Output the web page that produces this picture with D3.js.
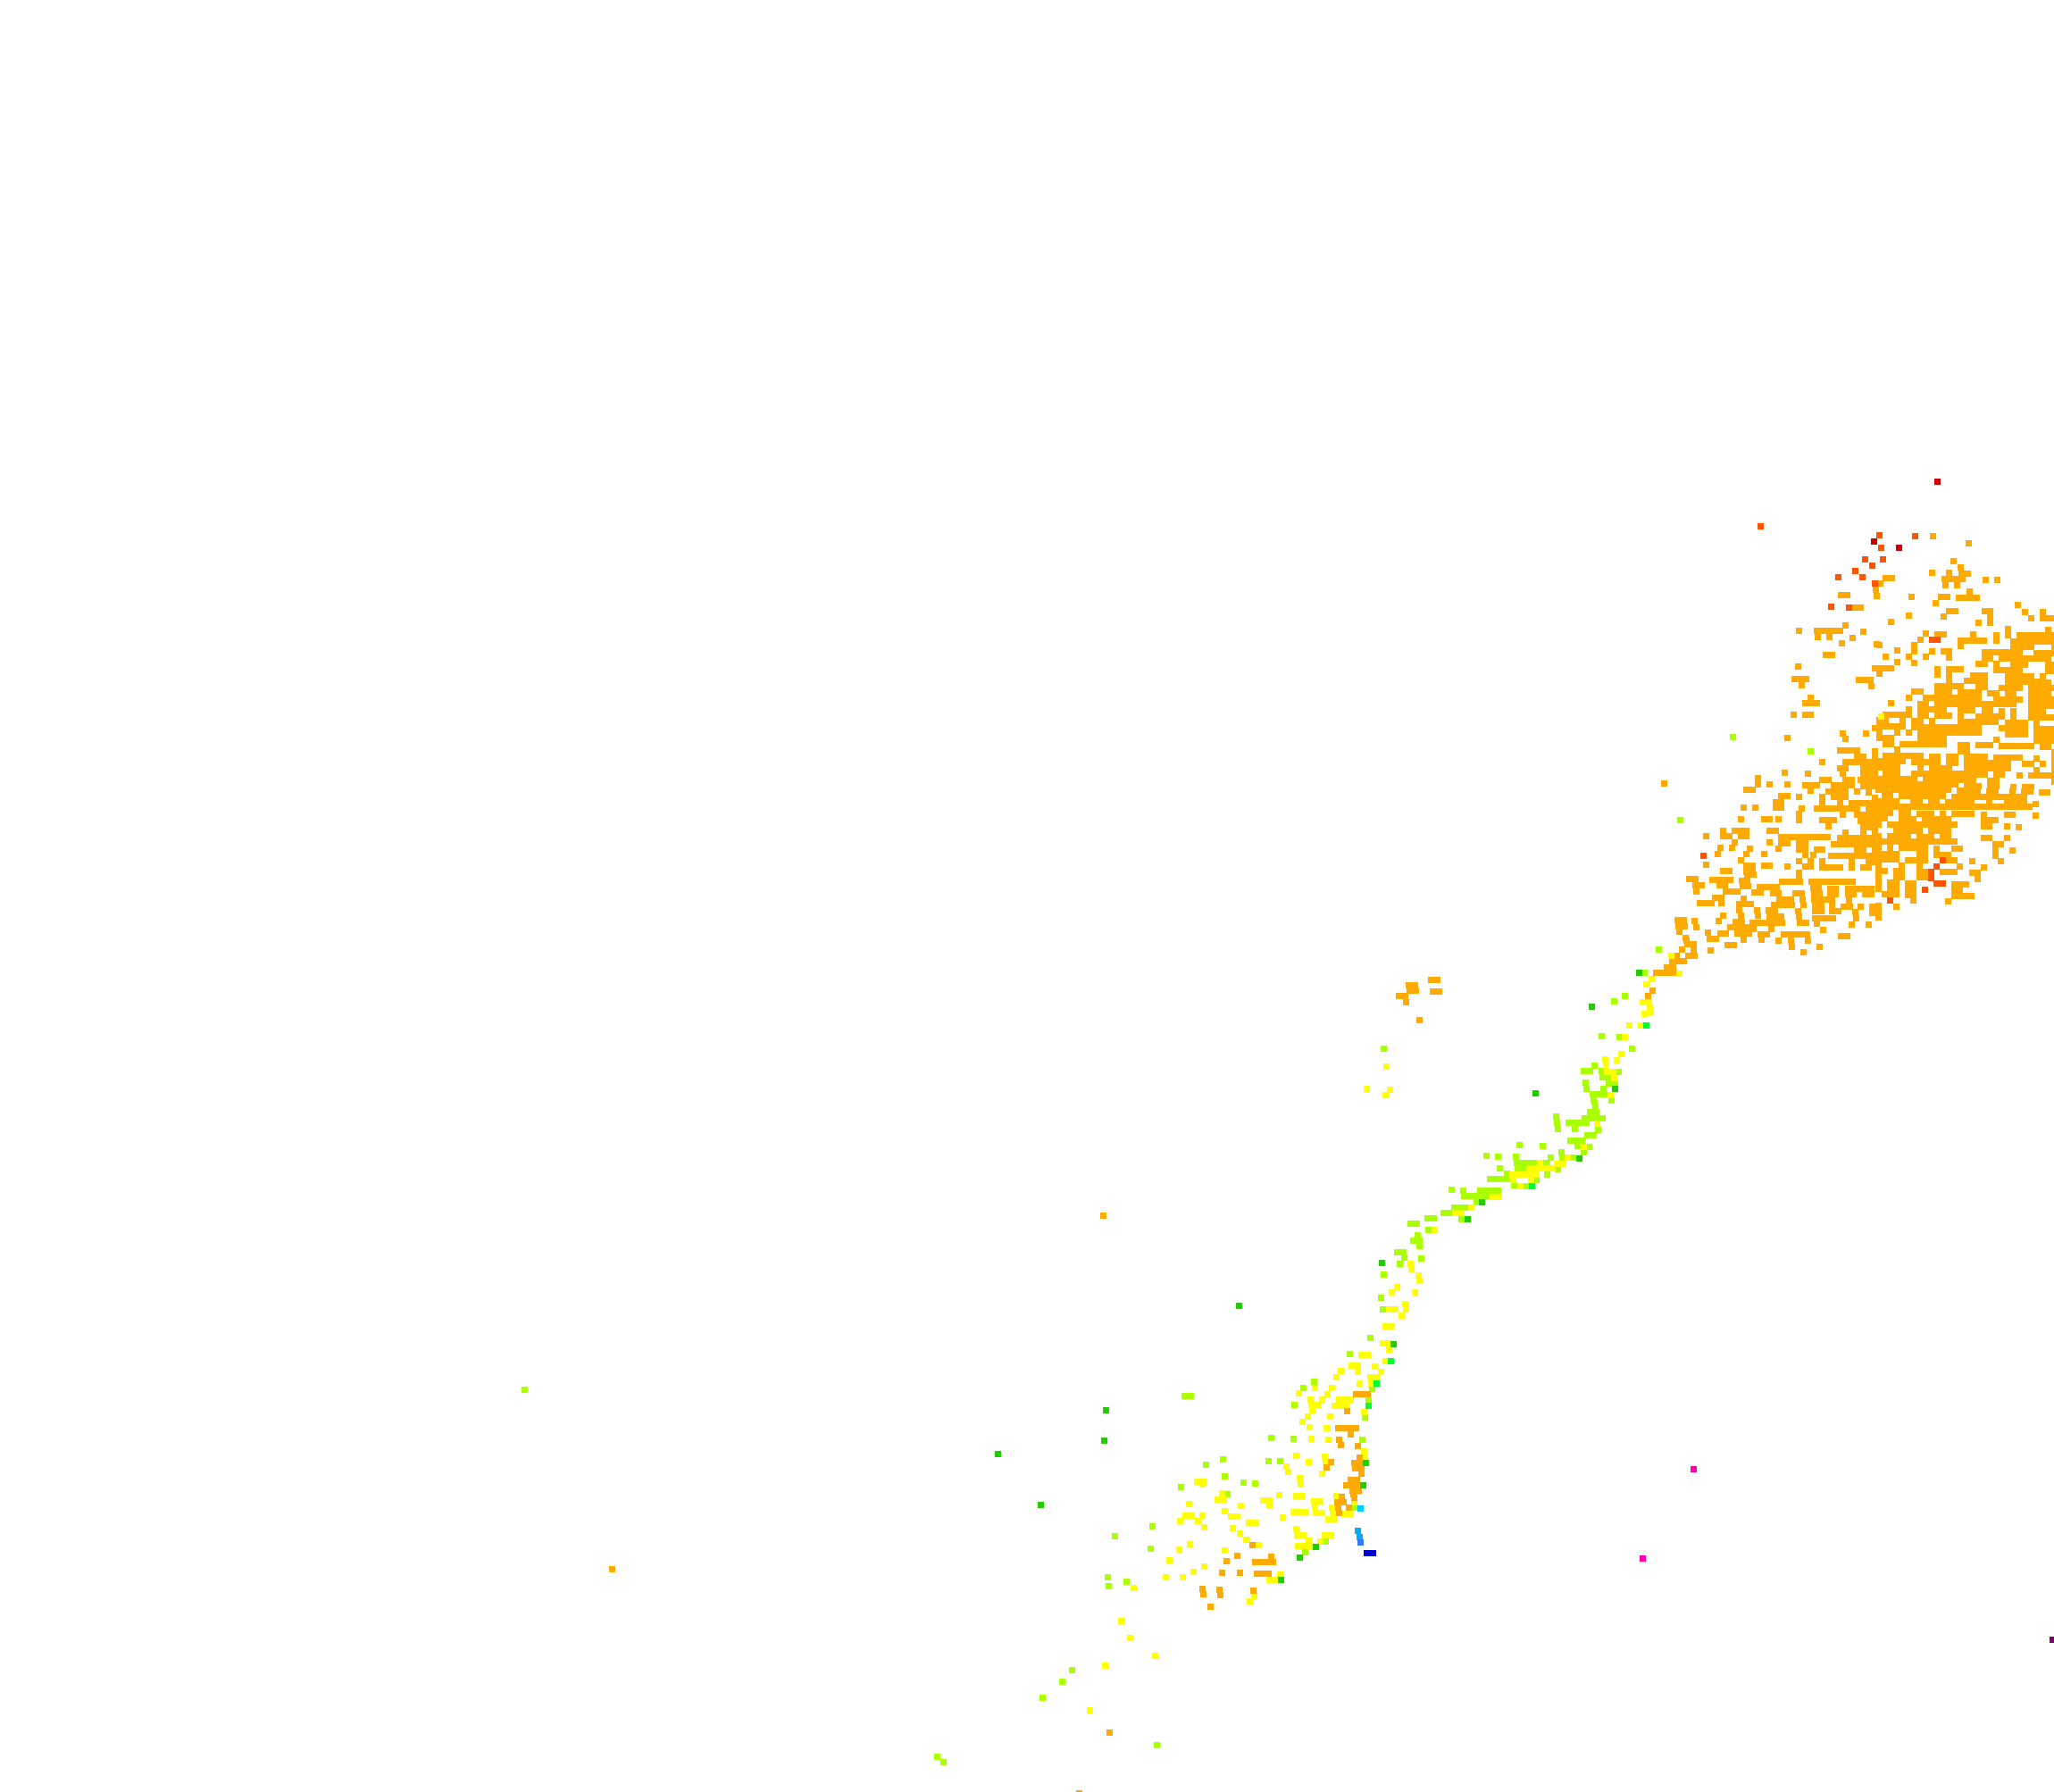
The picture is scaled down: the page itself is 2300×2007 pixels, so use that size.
<!DOCTYPE html>
<html><head><meta charset="utf-8"><style>html,body{margin:0;padding:0;background:#fff}svg{display:block}</style>
<script src="https://cdnjs.cloudflare.com/ajax/libs/d3/7.8.5/d3.min.js"></script></head><body>
<script>
const W=2300,H=2007;
const classColors={orange:"#ffaa00",yellow:"#ffff00",yg:"#aaff00",green:"#22cc00",lime:"#00ff33",red:"#ff5500",dark:"#cc0000",cyan:"#00ccff",sky:"#00aaff",mid:"#3377ff",navy:"#0000cc",pink:"#ff00aa",plum:"#800066"};
// dense grid blocks: each row lists occupied column runs
const rowsE=["12-13 18-19 25 28","5 11 19 26 28-30","2 17 19","22 29","8 10-11 16 20 22 24-30","7 14-18 20 23-30","0 6 14 23-26 30","3 6 9 11-12 18-24 27-30","1 5 8 12 18-19 21-29","3 6 17-18 20 23-25 29-30","0-2 10 12-14 20-24 29-30","0 10 12 16-18 22-26 28","12 15-18 22-27 28-29","10-14 17-18 21-24 26-30","6-7 10-12 14-17 19-20 22-23 26-29","5 8-17 20-24 26-30","2 7-8 10-23 26-30","5 7-11 14-16 18-19 21 23 26-28","1-4 5 7-8 10-12 14 17-21 23 26-30","0-1 4 6-7 9 14-20 22-25 27","0-4 6-17 21-25 27-30","0 3 5 7-17 22-25 27-30","0-2 7-11 20 27-30","1-2 4-11 14-15 17-19 21-26 28-29","3 14-15 30","1-7 9-10 12-13 15-18 20-24 27 30","0-4 6-10 12-13 15-22 25-26 28 30","0-3 7 9-12 15-22 27 30","1-3 6-14 15-18 20-21 24 26-30","0-3 4-6 8-14 15-16 19-20 30","0-13 15-17 19-20 23 25-26"];
const redE=[[0,5,9,2]];
const yellowE=[[10,357]];
const rowsC=["19","18-20","","16 18-19","","30","24.5 28.5","15 25","","24-27 30","27-28 30","21 25-30","24-25 28-30","14.5 18.5 24.5 28-30","10 21-22 25-26 27.5-30","10 12 15 18-20 23-26 28-30","8-9 19 22-25 27 29","14-15 17 21 23-25 30","13-14 21 24 26-30","7.5 9.5 13-14 17.5 20-27 29-30","17 24.5 27-30","7 11-12 13.5 17 21-23 27.5-30","22 28-30","4 6-8 12-13 25 28 30","1 4-5 7-8 14-22 24-30","6 12 14-15 17-18 23-30","3.5 5.5 8.5 13.5 17-18 20-21 27-28 30","3 8 11 18 19.5 22.5-30","7 17 19 21 26 29-30","1 8-9 11-12 15 18-19 21-24 26 28-29","4-5 8-9 17"];
const ygC=[[111,126],[372,174]];
const rowsS=["0-12 14-17 19-20 23 25-26 28-29","1-2 4-11 13-25","0-3 6-7 9-10 12-16 19 22-25 27","0-26","0-2 4-5 7-9 11 13-16 18 22-23 27","0-1 4-6 8-12 18-20","0 2-13 18-19 22 24","3-7 9-12","0 2-5 7-9 11-12 18-19 22","0-13 20-21","0 2 4-8 10 13-14 20 23","0-3 7-8 10-12 20","0-3 5-8 12-13 16 21","0 4 7 14 18","0-1 3-4 7-8 11-13 16-17","0 3-4 7-8 17","0 2-3 5-6 13-15","0 2-3 5-6 13-14","1-3 5-6 13-16","6 12","0 3","0","0"];
const redS=[[11,12],[10,13],[9,14],[9,15],[10,16],[11,16],[8,17],[2,19]];
// sparse / irregular cells, as [x, y, cols, rows] in chart units
const orangeN=[[624,432,2],[606,450],[591,471],[594,492],[474,489,2],[519,531,2],[489,591],[333,609],[393,609,5],[396,630],[435,630],[549,612],[513,633],[477,651],[594,654],[423,690,2],[330,729],[588,735],[318,771,3],[342,792],[534,774,3],[576,795],[783,291],[903,315],[852,375],[876,396],[879,417,2],[780,414],[837,414],[822,435,4],[960,438],[1000,438],[825,456],[864,456],[906,477],[711,495],[810,495,2],[870,498,4],[792,516],[1068,522]];
const redN=[[204,258],[603,288],[609,330],[555,369],[615,369],[579,390],[522,408],[465,429],[546,429],[588,450],[501,532],[441,528],[723,291]];
const darkN=[[586,309],[669,330],[797,108]];
const orangeW=[[240,-18],[324,303,2],[345,323,2],[348,345],[285,441,2],[288,463,2],[291,480],[312,501],[342,444],[348,465]];
const orangeSW=[[0,25],[42,5,4],[65,25,2],[87,45,3],[140,8,2],[143,28,2],[160,-12,2],[200,30,4],[277,12,4],[183,48,2],[245,50,2],[322,50,2],[333,-8],[375,12,8],[380,32,2],[437,35,2],[497,35,5],[383,52,2],[437,55,2],[497,55,2],[555,55,2],[385,72,4],[500,75],[267,72,3],[345,72],[52,65,2],[0,85,3],[72,85],[147,70],[133,88,3],[250,90,4],[347,90],[387,92,2],[445,92],[483,97,2],[540,97],[578,97],[133,107],[193,107],[232,108,2],[330,110],[387,112,2],[445,112,2],[522,115],[580,117],[78,125],[138,125],[195,127],[235,128,3],[332,128],[388,135,4],[525,135],[62,145],[120,147,2],[178,150,6],[337,150,2],[393,153],[510,155],[567,155],[102,165,4],[180,170],[240,170],[415,174],[28,183],[68,187,2],[127,185,3],[205,190,2],[282,190,5],[475,195,2],[33,205,2],[148,207],[208,208],[265,210],[305,210],[362,210],[93,225,2],[308,230],[403,231],[36,243],[348,250]];
const redW=[[372,225]];
const ygW=[[294,105]];
const orangeM=[[1155,0],[1158,12,2],[1140,30],[1180,30],[1122,50],[1162,50,2],[1107,70,3],[1089,90,2],[1053,108,4],[1041,168],[1026,186],[222,150,2],[225,168,2],[189,186,2],[213,207],[297,132,2],[303,171,2],[258,267]];
const yellowM=[[1104,51],[1131,111],[1038,129],[1020,147],[1008,207,2],[1032,225],[1035,240],[1014,246],[963,285],[1002,285],[948,324],[936,381],[921,402],[882,399],[885,420],[888,441,2],[909,441],[912,462],[900,519],[855,615],[810,693],[756,729],[720,750,2],[663,747],[627,765,5],[570,785,5],[573,804],[633,804],[597,825],[504,861,2],[147,423],[81,498],[159,501],[144,519]];
const ygM=[[1062,30],[1014,108],[948,186],[912,204],[870,321],[930,324],[972,363],[138,363],[846,420],[810,438,2],[927,441],[870,438],[873,459,2],[894,480,2],[816,477],[819,498],[876,498],[840,516,3],[843,534],[903,537],[846,543],[849,558],[831,576,2],[813,597,4],[717,591],[720,612],[723,633],[759,612,4],[780,633],[858,636],[822,654,2],[765,672,3],[789,690],[828,693],[810,711],[594,687],[672,690],[483,723],[522,726],[582,726],[735,711],[738,729],[699,729],[774,729],[585,747,4],[588,765,2],[528,765],[684,747],[723,768],[552,783],[687,786],[495,801,4],[651,804],[576,822],[615,825],[366,837],[405,840],[462,840,4],[408,858,5],[450,879],[375,897,3]];
const greenM=[[996,108],[837,222],[915,498],[648,513],[795,732],[468,879]];
const limeM=[[1020,285],[636,825]];
const ygL=[[555,147,3],[519,165,2],[579,186],[465,183,2],[408,201,2],[468,222],[432,240],[417,258,2],[438,276],[363,297,2],[387,315],[444,318],[372,336],[318,372],[315,489],[309,450],[273,585],[204,639]];
const yellowL=[[612,147],[558,165,2],[489,222],[408,336],[411,354],[435,375],[438,393],[363,414],[345,432],[423,432],[390,471],[393,489],[336,489,2],[378,510],[324,546,2]];
const greenL=[[600,186],[312,333]];
const greenB=[[921,6],[828,405],[819,480],[660,687],[606,723],[543,798]];
const limeB=[[912,63],[864,138],[837,213]];
const ygB=[[774,39],[654,132],[618,153],[849,156],[837,195],[588,210],[825,252],[219,180,2],[510,321],[585,324],[816,327],[348,393],[291,411],[501,399],[540,399],[354,450],[417,471],[456,474],[207,486],[363,510],[792,555],[111,618],[-15,651],[105,693],[693,669],[624,705],[24,804]];
const yellowB=[[885,3,2],[906,24],[813,42,2],[894,63],[780,78,2],[801,98],[858,81],[744,96],[879,99],[729,117],[843,117,2],[846,138],[807,138],[657,153],[714,153],[603,171],[699,174],[681,192],[642,192],[738,192,3],[645,210,2],[723,213,3],[648,228],[822,234],[633,249],[708,249],[615,267],[639,285],[696,288],[645,324],[702,327],[822,366],[825,387],[594,381],[690,384],[693,402],[636,402],[561,417],[567,436],[681,441],[606,456],[609,477],[261,468,2],[279,477],[345,507],[330,528,2],[537,513],[594,516,2],[483,531,2],[504,549],[408,549],[234,543],[729,516],[804,501],[654,534,2],[657,552],[789,537],[660,573,2],[714,555],[717,573],[354,567],[585,570,3],[375,585,2],[222,582,2],[279,582],[204,600],[264,600],[435,606,2],[549,588],[285,621],[381,624],[702,594,2],[756,576,2],[594,627],[597,648,2],[690,648,2],[636,666],[405,642],[426,663],[675,669],[237,678],[468,681],[600,684,3],[354,699],[201,696],[168,732],[285,753],[249,771],[156,789],[213,789],[504,798,2],[540,780],[48,825],[453,852],[438,870]];
const orangeB=[[795,174,3],[765,231],[735,288,4],[777,309],[738,327],[744,345],[801,348],[807,387],[789,405,2],[792,423,2],[813,441],[777,462,2],[762,480,3],[783,498,2],[786,510],[789,522],[747,519],[732,537,2],[735,555],[738,573],[771,555],[711,402],[696,420],[447,681],[396,717],[360,735],[456,738,4],[510,720],[345,774],[405,774],[462,777,3],[279,828],[282,846],[336,831],[339,849],[450,834],[306,888]];
const skyB=[[801,633],[807,654]],cyanB=[[810,558]],midB=[[810,672]],navyB=[[831,708,2]];
const yellowT=[[696,96],[726,153],[810,213],[642,246],[591,396]];
const ygT=[[531,261],[498,300],[432,354],[816,513],[78,552],[99,570]];
const orangeT=[[657,471],[555,675]];
// remote single cells
const ygFar=[[1752,4659],[3711,5289],[3714,5319]];
const orangeFar=[[2046,5262],[3696,4074]];
const greenFar=[[4152,4377],[3705,4728],[3699,4830],[3342,4875],[3486,5046]];
const pinkFar=[[5679,4926],[5508,5226]];
const plumFar=[[6885,5499]];

const sx=d3.scaleLinear().domain([0,6900]).range([0,W]);
const sy=d3.scaleLinear().domain([0,6021]).range([0,H]);
const pitch=19.5,tick=1.5,shearY=0.33;
function expand(rows,x0,y0,p){const out=[];rows.forEach((s,r)=>{s.split(" ").filter(Boolean).forEach(t=>{const m=t.split("-").map(Number);const a=m[0],b=m.length>1?m[1]:a;out.push([x0+p*a,y0+p*r+shearY*a,Math.round(b-a)+1]);});});return out;}
const layers=[
 [expand(rowsE,3,-2,19.6),"orange",6300,2040],[redE.map(d=>[3+19.6*d[2],-2+19.6*d[1]+3,d[3]]),"red",6300,2040],[yellowE,"yellow",6300,2040],
 [expand(rowsC,0,-12.6,19.6),"orange",5700,2340],[ygC,"yg",5700,2340],
 [expand(rowsS,0,2,19.6),"orange",6300,2640],[redS.map(d=>[19.6*d[0],2+19.6*d[1]+shearY*d[0]]),"red",6300,2640],
 [orangeN,"orange",5700,1500],[redN,"red",5700,1500],[darkN,"dark",5700,1500],
 [orangeW,"orange",5340,2640],[redW,"red",5340,2640],[ygW,"yg",5340,2640],
 [orangeSW,"orange",5700,2940],
 [orangeM,"orange",4500,3150],[ygM,"yg",4500,3150],[yellowM,"yellow",4500,3150],[greenM,"green",4500,3150],[limeM,"lime",4500,3150],
 [ygL,"yg",4320,3900],[yellowL,"yellow",4320,3900],[greenL,"green",4320,3900],
 [ygB,"yg",3750,4500],[yellowB,"yellow",3750,4500],[orangeB,"orange",3750,4500],[greenB,"green",3750,4500],[limeB,"lime",3750,4500],
 [skyB,"sky",3750,4500],[cyanB,"cyan",3750,4500],[midB,"mid",3750,4500],[navyB,"navy",3750,4500],
 [yellowT,"yellow",3060,5340],[ygT,"yg",3060,5340],[orangeT,"orange",3060,5340],
 [ygFar,"yg",0,0],[orangeFar,"orange",0,0],[greenFar,"green",0,0],[pinkFar,"pink",0,0],[plumFar,"plum",0,0]
];
const svg=d3.select("body").append("svg").attr("width",W).attr("height",H).attr("shape-rendering","crispEdges");
svg.append("rect").attr("width",W).attr("height",H).attr("fill","#fff");
svg.selectAll("g").data(layers).join("g").attr("fill",d=>classColors[d[1]]).each(function(l){
 d3.select(this).selectAll("rect").data(l[0]).join("rect")
  .attr("x",d=>sx(l[2]+d[0])).attr("y",d=>sy(l[3]+d[1]))
  .attr("width",d=>sx(pitch*(d[2]||1)+tick)).attr("height",d=>sy(pitch*(d[3]||1)+tick));
});
</script></body></html>
